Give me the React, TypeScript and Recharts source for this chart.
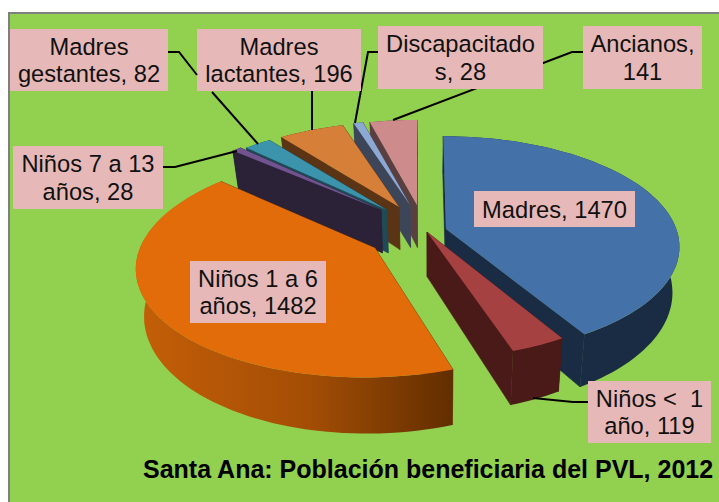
import { PieChart, Pie } from "recharts";

// painted back to front, so the order runs counter-clockwise from the end of Madres
const categories = [
  "Madres",
  "Ancianos",
  "Discapacitados",
  "Madres lactantes",
  "Madres gestantes",
  "Niños 7 a 13 años",
  "Niños 1 a 6 años",
  "Niños < 1 año",
];
const values = [1470, 141, 28, 196, 82, 28, 1482, 119];
const labelLines = [
  ["Madres, 1470"],
  ["Ancianos,", "141"],
  ["Discapacitado", "s, 28"],
  ["Madres", "lactantes, 196"],
  ["Madres", "gestantes, 82"],
  ["Niños 7 a 13", "años, 28"],
  ["Niños 1 a 6", "años, 1482"],
  ["Niños <\u00a0 1", "año, 119"],
];

const pieData = categories.map((name, i) => ({ name, value: values[i] }));
const total = values.reduce((a, b) => a + b, 0);
const startAngle = 90 - (360 * values[0]) / total;

const title = "Santa Ana: Población beneficiaria del PVL, 2012";

const PIE_CX = 400;
const PIE_CY = 225;
const RADIUS = 235;
const TILT = 0.468;
const PERSPECTIVE = 0.15;

// where each exploded slice's tip ends up, and colours
const sliceStyles: Record<string, any> = {
  Madres: { x: 446, y: 229, sx: 0.98, sy: 0.97, skew: 0.03, top: "#4571A9", side: "#1A2C44", arc: "#1A2C44" },
  Ancianos: { x: 417, y: 205, sx: 0.93, sy: 0.89, skew: 0, top: "#CE8B8B", side: "#5A3F40", arc: "#5A3F40" },
  Discapacitados: { x: 410, y: 205, sx: 0.93, sy: 0.89, skew: 0, top: "#8EA8D4", side: "#3D4658", arc: "#3D4658" },
  "Madres lactantes": { x: 399, y: 207, sx: 0.93, sy: 0.89, skew: 0, top: "#D67F38", side: "#5A3414", arc: "#5A3414" },
  "Madres gestantes": { x: 387, y: 210, sx: 0.93, sy: 0.89, skew: 0, top: "#3B93AC", side: "#1F4A56", arc: "#1F4A56" },
  "Niños 7 a 13 años": { x: 381, y: 210, sx: 0.93, sy: 0.89, skew: 0, top: "#70538F", side: "#2B2238", arc: "#2B2238" },
  "Niños 1 a 6 años": { x: 375, y: 248, sx: 1, sy: 1, skew: -0.08, top: "#E26B0A", side: "#6A3200", arc: "url(#orangeSide)" },
  "Niños < 1 año": { x: 427, y: 232, sx: 0.98, sy: 0.98, skew: 0, top: "#A64141", side: "#4A1A18", arc: "#4A1A18" },
};

// label boxes and their leader lines
const labelBoxes: Record<string, any> = {
  Madres: { x: 474, y: 191, w: 161, h: 36, leaders: [] },
  Ancianos: { x: 583, y: 26, w: 119, h: 63, leaders: ["583,52 572,52 393,120"] },
  Discapacitados: { x: 378, y: 26, w: 165, h: 63, leaders: ["378,52 368,52 355,123"] },
  "Madres lactantes": { x: 197, y: 29, w: 164, h: 62, leaders: ["312,91 312,130"] },
  "Madres gestantes": { x: 10, y: 29, w: 158, h: 62, leaders: ["168,52 179,52 197,75", "212,92 258,144"] },
  "Niños 7 a 13 años": { x: 13, y: 146, w: 150, h: 63, leaders: ["163,167 175,167 237,151"] },
  "Niños 1 a 6 años": { x: 190, y: 261, w: 136, h: 62, leaders: [] },
  "Niños < 1 año": { x: 588, y: 381, w: 123, h: 62, leaders: ["588,402 573,402 533,398"] },
};

function project(style: any, angle: number) {
  const rad = (angle * Math.PI) / 180;
  const u = Math.cos(rad);
  const v = -Math.sin(rad);
  const w = 1 - PERSPECTIVE * v;
  const dy = (style.sy * RADIUS * TILT * v) / w;
  return [style.x + (style.sx * RADIUS * u) / w + style.skew * dy, style.y + dy];
}

function drop(p: number[]) {
  return [p[0] - (p[0] - 430) * 0.028, p[1] + 38 + (p[1] - 150) * 0.08];
}

function toPath(points: number[][]) {
  return "M" + points.map((p) => `${p[0].toFixed(1)},${p[1].toFixed(1)}`).join("L") + "Z";
}

function Slice3D(props: any) {
  const style = sliceStyles[props.name ?? props.payload?.name];
  const steps = Math.max(2, Math.ceil(Math.abs(props.endAngle - props.startAngle) / 2));
  const arc: number[][] = [];
  for (let i = 0; i <= steps; i++) {
    arc.push(project(style, props.startAngle + ((props.endAngle - props.startAngle) * i) / steps));
  }
  const tip = [style.x, style.y];
  const first = arc[0];
  const last = arc[arc.length - 1];
  return (
    <g>
      <path d={toPath([tip, first, drop(first), drop(tip)])} fill={style.side} stroke={style.side} strokeWidth={0.6} />
      <path d={toPath([tip, last, drop(last), drop(tip)])} fill={style.side} stroke={style.side} strokeWidth={0.6} />
      <path d={toPath([...arc, ...arc.map(drop).reverse()])} fill={style.arc} />
      <path d={toPath([tip, ...arc])} fill={style.top} />
    </g>
  );
}

function SliceLabel(props: any) {
  const name = props.name ?? props.payload?.name;
  const box = labelBoxes[name];
  const lines = labelLines[categories.indexOf(name)];
  const lineHeight = 27.6;
  const firstY = box.y + box.h / 2 - ((lines.length - 1) * lineHeight) / 2 + 8.5;
  return (
    <g>
      {box.leaders.map((pts: string) => (
        <polyline key={pts} points={pts} fill="none" stroke="#000" strokeWidth={2} />
      ))}
      <rect x={box.x} y={box.y} width={box.w} height={box.h} fill="#E6B9B8" />
      <text
        textAnchor="middle"
        fontFamily="'Liberation Sans', Arial, sans-serif"
        fontSize={23.7}
        fill="#111"
      >
        {lines.map((line: string, i: number) => (
          <tspan key={i} x={box.x + box.w / 2} y={firstY + i * lineHeight}>
            {line}
          </tspan>
        ))}
      </text>
    </g>
  );
}

export default function App() {
  return (
    <div
      style={{
        position: "absolute",
        left: 0,
        top: 0,
        width: 719,
        height: 502,
        overflow: "hidden",
        background: "#fff",
      }}
    >
      <div
        style={{
          position: "absolute",
          left: 8,
          top: 12,
          width: 730,
          height: 510,
          background: "#92D050",
          border: "2px solid #7F7F7F",
        }}
      />
      <div style={{ position: "absolute", left: 0, top: 0 }}>
        <PieChart width={719} height={502} margin={{ top: 0, right: 0, bottom: 0, left: 0 }}>
          <defs>
            <linearGradient id="orangeSide" gradientUnits="userSpaceOnUse" x1={136} y1={0} x2={453} y2={0}>
              <stop offset="0%" stopColor="#C45F08" />
              <stop offset="55%" stopColor="#A34D05" />
              <stop offset="100%" stopColor="#622E00" />
            </linearGradient>
          </defs>
          <Pie
            data={pieData}
            dataKey="value"
            nameKey="name"
            cx={PIE_CX}
            cy={PIE_CY}
            innerRadius={0}
            outerRadius={RADIUS}
            startAngle={startAngle}
            endAngle={startAngle + 360}
            stroke="none"
            shape={Slice3D}
            label={SliceLabel}
            labelLine={false}
            isAnimationActive={false}
          />
          <text
            x={143}
            y={478}
            fontFamily="'Liberation Sans', Arial, sans-serif"
            fontWeight="bold"
            fontSize={25}
            fill="#000"
          >
            {title}
          </text>
        </PieChart>
      </div>
    </div>
  );
}
